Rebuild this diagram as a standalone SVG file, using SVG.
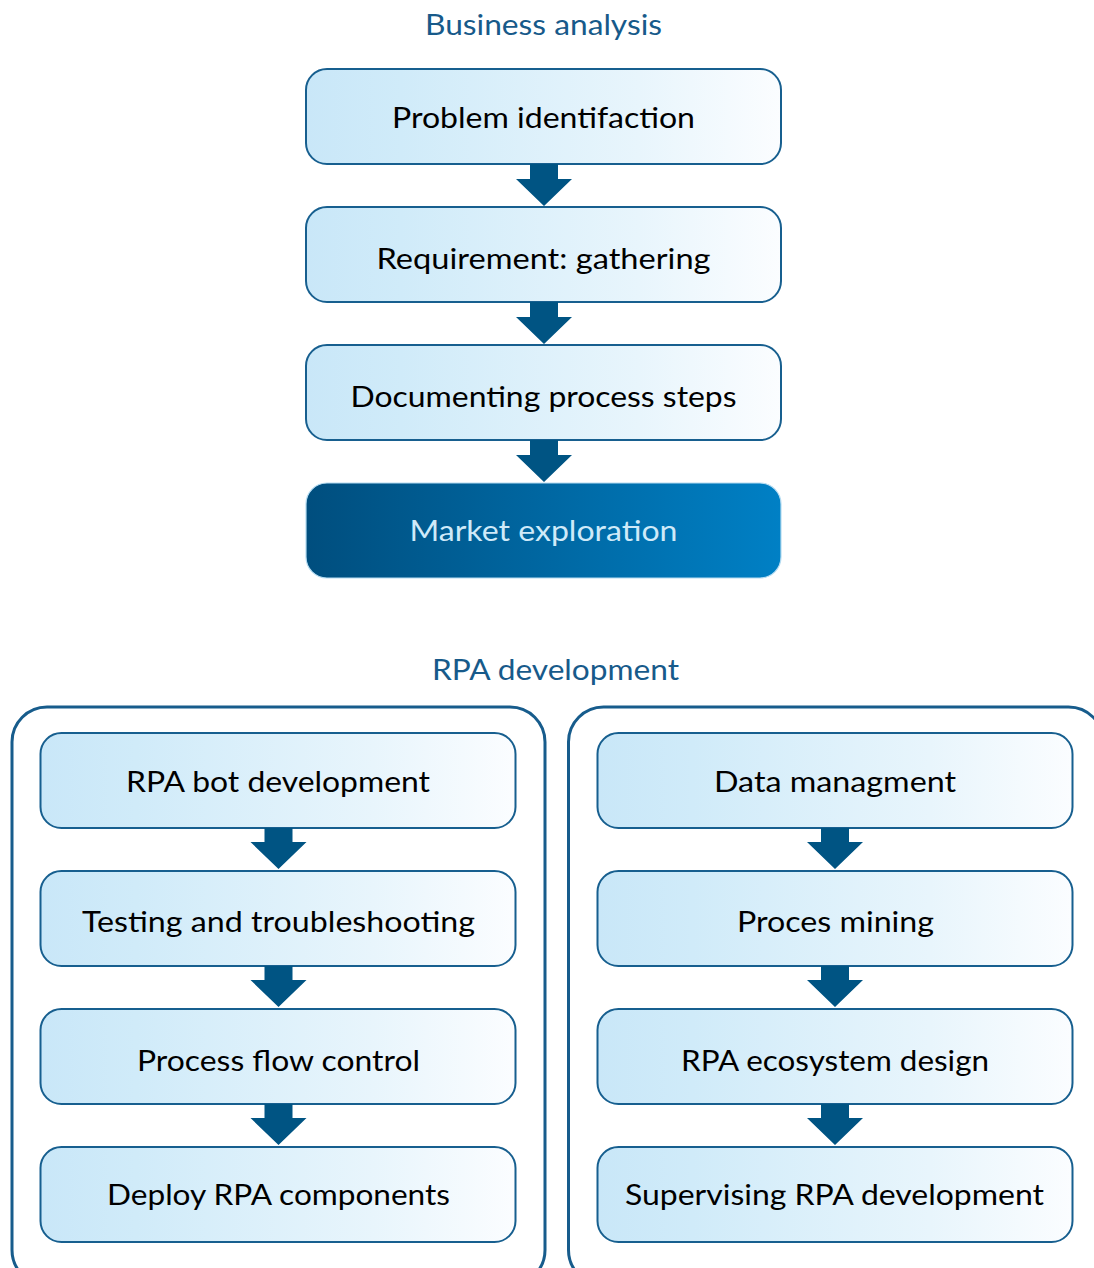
<svg xmlns="http://www.w3.org/2000/svg" width="1094" height="1268" viewBox="0 0 1094 1268">
  <defs>
    <linearGradient id="lightFill" x1="0" y1="0" x2="1" y2="0">
      <stop offset="0" stop-color="#c9e7f8"/>
      <stop offset="0.2" stop-color="#d0ebf9"/>
      <stop offset="0.7" stop-color="#e8f5fc"/>
      <stop offset="1" stop-color="#fbfdff"/>
    </linearGradient>
    <linearGradient id="darkFill" x1="0" y1="0" x2="1" y2="0">
      <stop offset="0" stop-color="#004e7e"/>
      <stop offset="1" stop-color="#0080c5"/>
    </linearGradient>
    <style>
      .box { fill: url(#lightFill); stroke: #175f8f; stroke-width: 2; }
      .box-dark { fill: url(#darkFill); stroke: #b5dcf2; stroke-width: 1.2; }
      .frame { fill: none; stroke: #175c8c; stroke-width: 3; }
      .label { font-family: Lato, "Liberation Sans", sans-serif; font-size: 29px; fill: #000000; text-anchor: middle; }
      .label-dark { font-family: Lato, "Liberation Sans", sans-serif; font-size: 29px; fill: #cfeaf9; text-anchor: middle; }
      .title { font-family: Lato, "Liberation Sans", sans-serif; font-size: 29px; fill: #175a8a; text-anchor: middle; }
      .arrow { fill: #005483; }
    </style>
  </defs>

  <rect width="1094" height="1268" fill="#ffffff"/>

  <!-- section headings and frames -->
  <g id="section-business">
    <text class="title" x="543.5" y="35" textLength="237" lengthAdjust="spacingAndGlyphs">Business analysis</text>
  </g>
  <g id="section-rpa">
    <text class="title" x="555.5" y="680" textLength="247" lengthAdjust="spacingAndGlyphs">RPA development</text>
    <rect class="frame" x="12" y="707" width="533" height="578" rx="35"/>
    <rect class="frame" x="568.5" y="707" width="535" height="578" rx="35"/>
  </g>

  <!-- business analysis steps -->
  <g id="problem-identification">
    <rect class="box" x="306" y="69" width="475" height="95" rx="21"/>
    <text class="label" x="543.5" y="128" textLength="303" lengthAdjust="spacingAndGlyphs">Problem identifaction</text>
  </g>
  <g id="requirement-gathering">
    <rect class="box" x="306" y="207" width="475" height="95" rx="21"/>
    <text class="label" x="543.5" y="269" textLength="334" lengthAdjust="spacingAndGlyphs">Requirement: gathering</text>
  </g>
  <g id="documenting-process-steps">
    <rect class="box" x="306" y="345" width="475" height="95" rx="21"/>
    <text class="label" x="543.5" y="407" textLength="386" lengthAdjust="spacingAndGlyphs">Documenting process steps</text>
  </g>
  <g id="market-exploration">
    <rect class="box-dark" x="306" y="483" width="475" height="95" rx="21"/>
    <text class="label-dark" x="543.5" y="541" textLength="268" lengthAdjust="spacingAndGlyphs">Market exploration</text>
  </g>

  <!-- RPA development, left column -->
  <g id="rpa-bot-development">
    <rect class="box" x="40.5" y="733" width="475" height="95" rx="21"/>
    <text class="label" x="278" y="792" textLength="304" lengthAdjust="spacingAndGlyphs">RPA bot development</text>
  </g>
  <g id="testing-troubleshooting">
    <rect class="box" x="40.5" y="871" width="475" height="95" rx="21"/>
    <text class="label" x="278.5" y="932" textLength="393" lengthAdjust="spacingAndGlyphs">Testing and troubleshooting</text>
  </g>
  <g id="process-flow-control">
    <rect class="box" x="40.5" y="1009" width="475" height="95" rx="21"/>
    <text class="label" x="278.5" y="1071" textLength="283" lengthAdjust="spacingAndGlyphs">Process flow control</text>
  </g>
  <g id="deploy-rpa-components">
    <rect class="box" x="40.5" y="1147" width="475" height="95" rx="21"/>
    <text class="label" x="278.5" y="1205" textLength="343" lengthAdjust="spacingAndGlyphs">Deploy RPA components</text>
  </g>

  <!-- RPA development, right column -->
  <g id="data-management">
    <rect class="box" x="597.5" y="733" width="475" height="95" rx="21"/>
    <text class="label" x="835" y="792" textLength="242" lengthAdjust="spacingAndGlyphs">Data managment</text>
  </g>
  <g id="process-mining">
    <rect class="box" x="597.5" y="871" width="475" height="95" rx="21"/>
    <text class="label" x="835.5" y="932" textLength="197" lengthAdjust="spacingAndGlyphs">Proces mining</text>
  </g>
  <g id="rpa-ecosystem-design">
    <rect class="box" x="597.5" y="1009" width="475" height="95" rx="21"/>
    <text class="label" x="835" y="1071" textLength="308" lengthAdjust="spacingAndGlyphs">RPA ecosystem design</text>
  </g>
  <g id="supervising-rpa-development">
    <rect class="box" x="597.5" y="1147" width="475" height="95" rx="21"/>
    <text class="label" x="834.5" y="1205" textLength="419" lengthAdjust="spacingAndGlyphs">Supervising RPA development</text>
  </g>

  <!-- block arrows between steps -->
  <g id="connectors">
    <path class="arrow" d="M530,164 H558 V179 H572 L544,206 L516,179 H530 Z"/>
    <path class="arrow" d="M530,302 H558 V317 H572 L544,344 L516,317 H530 Z"/>
    <path class="arrow" d="M530,440 H558 V455 H572 L544,482 L516,455 H530 Z"/>

    <path class="arrow" d="M264.5,828 H292.5 V842 H306.5 L278.5,869 L250.5,842 H264.5 Z"/>
    <path class="arrow" d="M264.5,966 H292.5 V980 H306.5 L278.5,1007 L250.5,980 H264.5 Z"/>
    <path class="arrow" d="M264.5,1104 H292.5 V1118 H306.5 L278.5,1145 L250.5,1118 H264.5 Z"/>

    <path class="arrow" d="M821,828 H849 V842 H863 L835,869 L807,842 H821 Z"/>
    <path class="arrow" d="M821,966 H849 V980 H863 L835,1007 L807,980 H821 Z"/>
    <path class="arrow" d="M821,1104 H849 V1118 H863 L835,1145 L807,1118 H821 Z"/>
  </g>
</svg>
